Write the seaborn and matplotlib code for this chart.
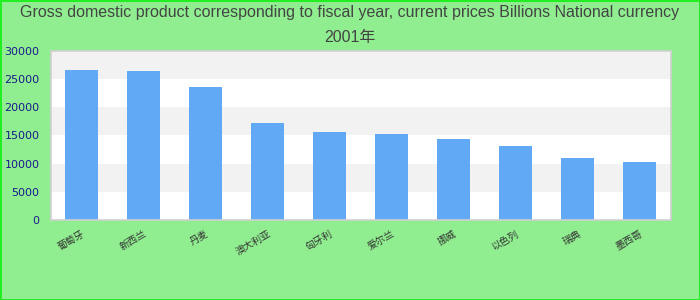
import matplotlib
matplotlib.use("Agg")
import matplotlib.pyplot as plt
import seaborn as sns
import pandas as pd

categories = ["葡萄牙", "新西兰", "丹麦", "澳大利亚", "匈牙利", "爱尔兰", "挪威", "以色列", "瑞典", "墨西哥"]
values = [26620, 26450, 23610, 17220, 15620, 15270, 14380, 13140, 11000, 10300]
yticks = [0, 5000, 10000, 15000, 20000, 25000, 30000]
title = "Gross domestic product corresponding to fiscal year, current prices Billions National currency\n2001年"

sns.set_theme(style="white")
plt.rcParams['font.family'] = ['DejaVu Sans', 'Noto Sans CJK SC']

df = pd.DataFrame({"cat": categories, "val": values})

fig = plt.figure(figsize=(7, 3), dpi=100)
fig.patch.set_facecolor("#90ee90")
fig.patch.set_edgecolor("#22ee22")
fig.patch.set_linewidth(2)

ax = fig.add_axes([50.5 / 700, 80 / 300, 620 / 700, 169 / 300])
ax.set_facecolor("white")
for i in range(len(yticks) - 1):
    if i % 2 == 1:
        ax.axhspan(yticks[i], yticks[i + 1], color="#f2f2f2", zorder=0, lw=0)

sns.barplot(data=df, x="cat", y="val", color="#62a9f5", width=0.52, saturation=1,
            linewidth=0, edgecolor="none", ax=ax, zorder=2)

ax.set_ylim(yticks[0], yticks[-1])
ax.set_yticks(yticks)
ax.set_yticklabels([str(t) for t in yticks], color="#1a1a8c", fontsize=8)
ax.tick_params(axis="y", length=0, pad=8)
ax.tick_params(axis="x", length=0, pad=6)
ax.set_xticks(range(len(categories)))
ax.set_xticklabels(categories, rotation=30, ha="right", rotation_mode="anchor",
                   fontsize=7, color="#333333")
ax.set_xlabel("")
ax.set_ylabel("")
for s in ax.spines.values():
    s.set_color("#d0d0d0")
    s.set_linewidth(1.2)

fig.text(0.5, 1 - 5 / 300, title, ha="center", va="top", fontsize=11.5,
         color="#444444", linespacing=1.85,
         family=["Liberation Sans", "Noto Sans CJK SC"])

fig.savefig("out.png", dpi=100, facecolor=fig.get_facecolor(), edgecolor=fig.get_edgecolor())
